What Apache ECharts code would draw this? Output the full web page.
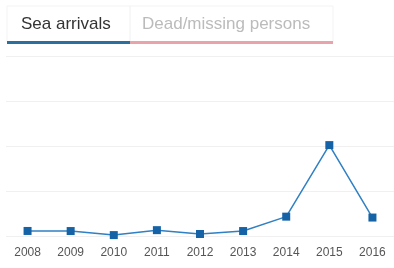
<!DOCTYPE html>
<html>
<head>
<meta charset="utf-8">
<script src="https://cdn.jsdelivr.net/npm/echarts@6/dist/echarts.min.js"></script>
<style>
  html, body { margin: 0; padding: 0; background: #fff; }
  #chart { width: 394px; height: 268px; }
</style>
</head>
<body>
<div id="chart"></div>
<script>
var years = ['2008', '2009', '2010', '2011', '2012', '2013', '2014', '2015', '2016'];
var seaArrivals = [56000, 55000, 10000, 65000, 22000, 55000, 215000, 1010000, 205000];
var tabLabels = ['Sea arrivals', 'Dead/missing persons'];

var chart = echarts.init(document.getElementById('chart'));

chart.setOption({
  backgroundColor: '#fff',
  animation: false,
  graphic: [
    // tab box
    { type: 'rect', shape: { x: 7, y: 6, width: 326, height: 36 }, style: { fill: '#fff', stroke: '#f3f3f3', lineWidth: 1 } },
    { type: 'line', shape: { x1: 130, y1: 6, x2: 130, y2: 41 }, style: { stroke: '#f0f0f0', lineWidth: 1 } },
    { type: 'text', left: 21, top: 16, style: { text: tabLabels[0], fill: '#333', font: '17px Arial, "Liberation Sans", sans-serif' } },
    { type: 'text', left: 142, top: 16, style: { text: tabLabels[1], fill: '#bbb', font: '17px Arial, "Liberation Sans", sans-serif' } },
    { type: 'rect', shape: { x: 7, y: 41, width: 123, height: 3 }, style: { fill: '#2a6f9e' } },
    { type: 'rect', shape: { x: 130, y: 41, width: 203, height: 3 }, style: { fill: '#e8a3ab' } }
  ],
  grid: { left: 6, right: -4, top: 56, bottom: 32 },
  xAxis: {
    type: 'category',
    data: years,
    boundaryGap: true,
    axisLine: { show: false },
    axisTick: { show: false },
    axisLabel: { color: '#555', fontSize: 12, fontFamily: 'Arial, "Liberation Sans", sans-serif', margin: 11 }
  },
  yAxis: {
    type: 'value',
    min: 0,
    max: 2000000,
    interval: 500000,
    axisLine: { show: false },
    axisTick: { show: false },
    axisLabel: { show: false },
    splitLine: { lineStyle: { color: '#f0f0f0', width: 1 } }
  },
  series: [{
    name: tabLabels[0],
    type: 'line',
    data: seaArrivals,
    symbol: 'rect',
    symbolSize: 8,
    lineStyle: { color: '#2f80c4', width: 1.5 },
    itemStyle: { color: '#1563a6' }
  }]
});
</script>
</body>
</html>
